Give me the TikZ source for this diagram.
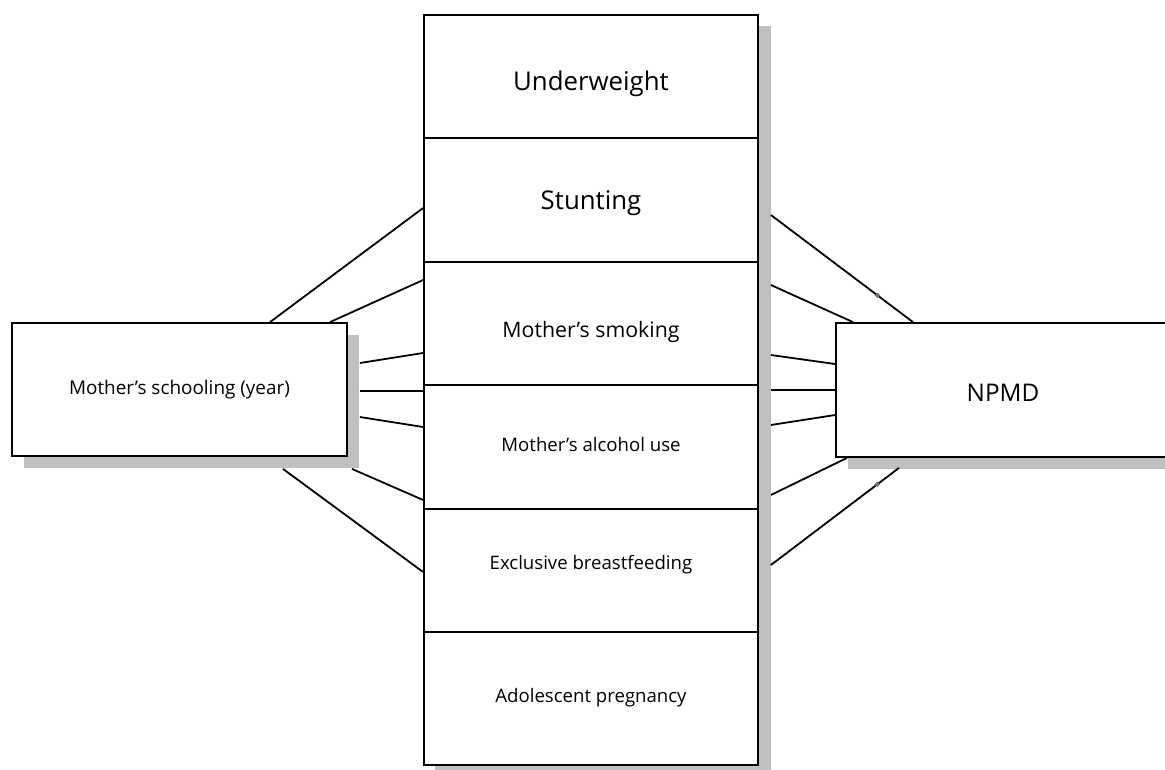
\documentclass[tikz,border=0pt]{standalone}
\usepackage{fontspec}
\setmainfont{Open Sans}
\usetikzlibrary{positioning,calc,fit,backgrounds,shadows}
\newcommand{\nudgelbl}[2]{\raisebox{#1}[\height][\depth]{#2}}

\begin{document}
\begin{tikzpicture}[
  x=1pt, y=-1pt,
  box/.style={rectangle, draw=black, line width=1.8pt, fill=white,
              inner sep=0pt, align=center},
  row/.style={box, minimum width=334pt},
  shade/.style={drop shadow={shadow xshift=12pt, shadow yshift=-12pt,
                fill=black!25, opacity=1}},
  big/.style={font=\fontsize{25.8}{30}\selectfont},
  mid/.style={font=\fontsize{21.3}{25}\selectfont},
  small/.style={font=\fontsize{18.6}{22}\selectfont},
  link/.style={line width=1.8pt},
  blip/.style={circle, draw=black!55, fill=black!35, inner sep=0pt, minimum size=3pt}
]
\useasboundingbox (0,0) rectangle (1165,769);

% central column
\node[row, big, minimum height=123pt] (uw) at (591,76.5)  {\nudgelbl{-7pt}{Underweight}};
\node[row, big, minimum height=124pt] (st) at (591,200)   {\nudgelbl{-3pt}{Stunting}};
\node[row, mid, minimum height=123pt] (sm) at (591,323.5) {\nudgelbl{-8pt}{Mother’s smoking}};
\node[row, small, minimum height=124pt] (al) at (591,447) {\nudgelbl{2pt}{Mother’s alcohol use}};
\node[row, small, minimum height=123pt] (bf) at (591,570.5) {\nudgelbl{6pt}{Exclusive breastfeeding}};
\node[row, small, minimum height=133pt] (ap) at (591,698.5) {\nudgelbl{1pt}{Adolescent pregnancy}};
\begin{scope}[on background layer]
  \node[fit=(uw)(ap), inner sep=0pt, fill=white, shade] (col) {};
\end{scope}

% side boxes
\node[box, shade, font=\fontsize{18.9}{22}\selectfont, minimum width=335pt, minimum height=133pt] (school) at (179.5,389.5) {Mother’s schooling (year)};
\node[box, shade, font=\fontsize{24.3}{28}\selectfont, minimum width=334pt, minimum height=134pt] (npmd) at (1003,390) {\nudgelbl{-3pt}{NPMD}};

\coordinate (schoolsh) at ([shift={(12,12)}]school.south east);
\coordinate (colsh) at ([shift={(12,12)}]ap.south east);
\coordinate (npmdsh) at ([shift={(12,10)}]npmd.south west);

% left links
\draw[link] (school.north -| 270,0) -- (st.west |- 0,208);
\draw[link] (school.north -| 330,0) -- (sm.west |- 0,280);
\draw[link] (schoolsh |- 0,363) -- (sm.west |- 0,353);
\draw[link] (schoolsh |- 0,391) -- (al.west |- 0,391);
\draw[link] (schoolsh |- 0,417) -- (al.west |- 0,427);
\draw[link] (schoolsh -| 352,0) -- (al.west |- 0,500);
\draw[link] (schoolsh -| 283,0) -- (bf.west |- 0,572);

% right links
\draw[link] (colsh |- 0,215) -- node[blip, pos=.75] {} (npmd.north -| 913,0);
\draw[link] (colsh |- 0,285) -- (npmd.north -| 853,0);
\draw[link] (colsh |- 0,355) -- (npmd.west |- 0,364);
\draw[link] (colsh |- 0,390) -- (npmd.west |- 0,390);
\draw[link] (colsh |- 0,425) -- (npmd.west |- 0,415);
\draw[link] (colsh |- 0,495) -- (npmd.south -| 847,0);
\draw[link] (colsh |- 0,565) -- node[blip, pos=.83] {} (npmdsh -| 899,0);
\end{tikzpicture}
\end{document}
